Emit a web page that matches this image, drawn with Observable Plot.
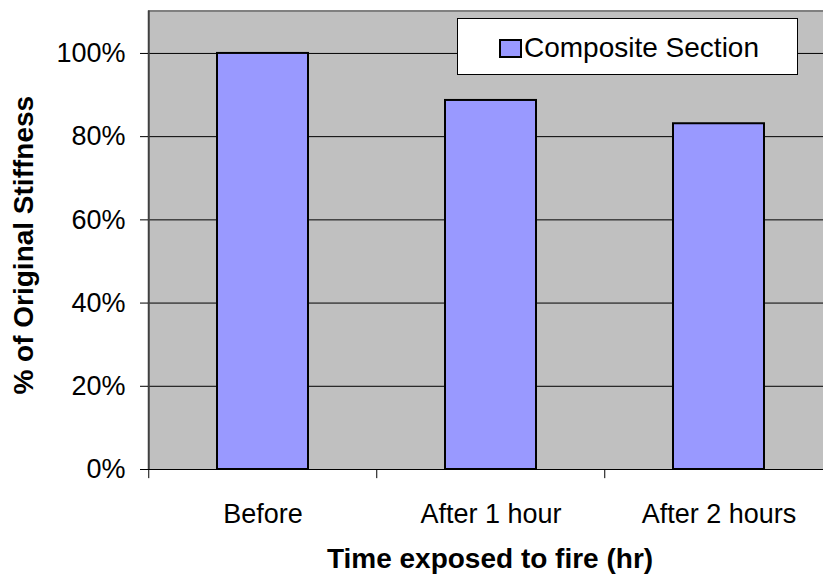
<!DOCTYPE html>
<html>
<head>
<meta charset="utf-8">
<script src="https://cdn.jsdelivr.net/npm/d3@7"></script>
<script src="https://cdn.jsdelivr.net/npm/@observablehq/plot@0.6"></script>
<style>
  html, body { margin: 0; padding: 0; background: #fff; }
  #wrap { position: relative; width: 823px; height: 577px; overflow: hidden; font-family: "Liberation Sans", Arial, sans-serif; }
  #legend { position: absolute; left: 457px; top: 18px; width: 339px; height: 55px; background: #fff; border: 1px solid #000; }
  #legend .sw { position: absolute; left: 41px; top: 20px; width: 19px; height: 15px; border: 2px solid #000; }
  #legend .lb { position: absolute; left: 66px; top: 1px; line-height: 55px; font-size: 28px; color: #000; white-space: nowrap; }
</style>
</head>
<body>
<div id="wrap"></div>
<script>
const categories = ["Before", "After 1 hour", "After 2 hours"];
const values = [1.00, 0.887, 0.831];
const seriesName = "Composite Section";
const yTicks = [0, 0.2, 0.4, 0.6, 0.8, 1.0];
const xTitle = "Time exposed to fire (hr)";
const yTitle = "% of Original Stiffness";

const barColor = "#9999FF";
const data = categories.map((c, i) => ({category: c, value: values[i]}));

const x0 = 148, x1 = 833.5;
const step = (x1 - x0) / categories.length;
const yMax = 1.102;

const chart = Plot.plot({
  width: 823,
  height: 577,
  marginTop: 10.5,
  marginBottom: 108,
  marginLeft: 148,
  marginRight: 0,
  style: {fontFamily: "'Liberation Sans', Arial, sans-serif", fontSize: "27px", color: "#000", background: "transparent"},
  x: {domain: categories, range: [x0, x1], paddingInner: 0.6, paddingOuter: 0.3},
  y: {domain: [0, yMax]},
  marks: [
    Plot.frame({fill: "#C0C0C0", stroke: null}),
    Plot.gridY(yTicks, {stroke: "#000", strokeOpacity: 1, strokeWidth: 1}),
    Plot.ruleY([yMax], {stroke: "#808080", strokeWidth: 2}),
    Plot.ruleX([categories[0]], {x: d => d, y1: 0, y2: yMax, dx: -step / 2, stroke: "#404040", strokeWidth: 2}),
    Plot.ruleX(categories, {x: d => d, y1: 0, y2: -0.022, dx: -step / 2, stroke: "#000", strokeWidth: 1}),
    Plot.barY(data, {x: "category", y: "value", fill: barColor, stroke: "#000", strokeWidth: 2}),
    Plot.axisY(yTicks, {tickFormat: d3.format(".0%"), tickSize: 8, tickPadding: 15, fontSize: 27, label: null, stroke: "#000"}),
    Plot.axisX({tickSize: 0, tickPadding: 34, fontSize: 27, label: null}),
    Plot.text([xTitle], {frameAnchor: "bottom", dx: 4, dy: 90, fontSize: 28, fontWeight: "bold", lineAnchor: "middle", fill: "#000"}),
    Plot.text([yTitle], {frameAnchor: "left", dx: -124, dy: 5, rotate: -90, fontSize: 28, fontWeight: "bold", lineAnchor: "middle", textAnchor: "middle", fill: "#000"})
  ]
});

const wrap = document.getElementById("wrap");
wrap.appendChild(chart);

const legend = document.createElement("div");
legend.id = "legend";
const sw = document.createElement("div");
sw.className = "sw";
sw.style.background = barColor;
const lb = document.createElement("div");
lb.className = "lb";
lb.textContent = seriesName;
legend.appendChild(sw);
legend.appendChild(lb);
wrap.appendChild(legend);
</script>
</body>
</html>
